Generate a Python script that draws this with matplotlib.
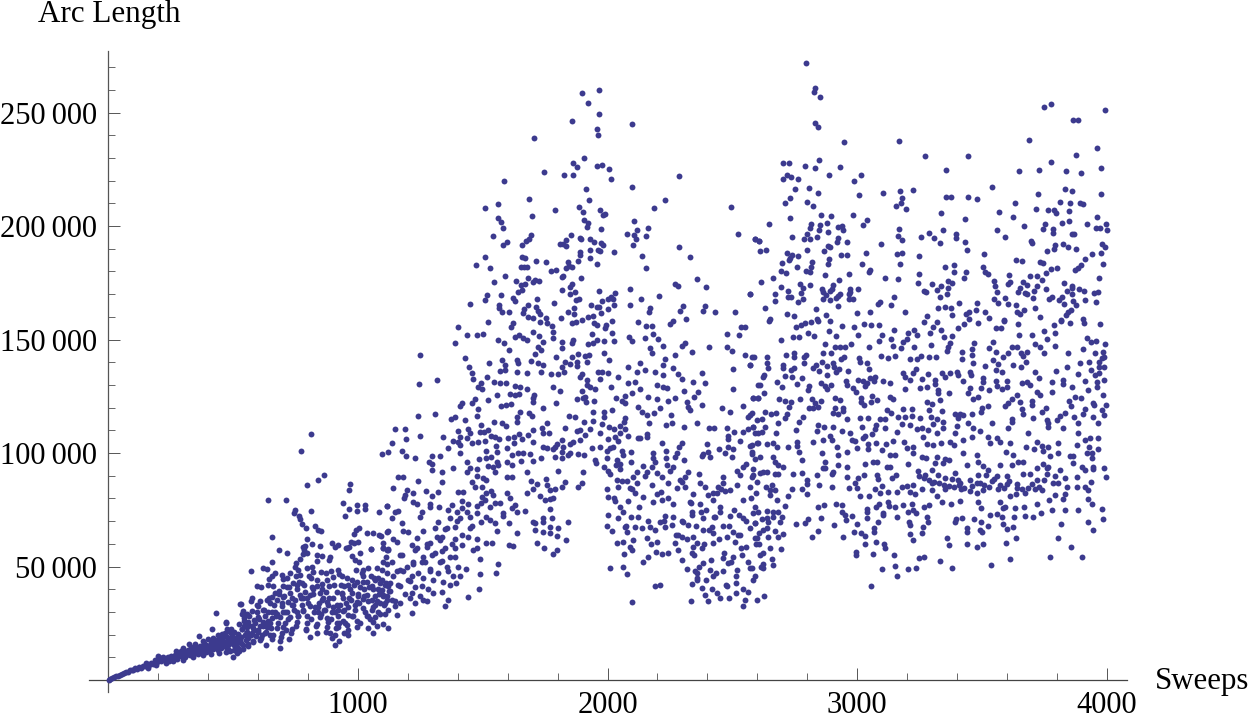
import matplotlib
matplotlib.use("Agg")
import matplotlib.pyplot as plt
import numpy as np

# (sweeps, arc length in thousands), region by region
middle_top = [(1898,258.7),(1966,259.7),(1922,254),(1967,249.5),(1856,246.2),(2098,245),(1959,242.6),(1960,240),(1705,238.6),(1907,230),(1863,227.6),(1878,226.1),(1958,226.3),(1979,227),(2006,225.2),(1747,223.6),(1827,222.5),(1863,222.5),(2013,220.8),(2286,222),(1584,220),(1915,216.4),(2098,217.2),(1685,212),(1924,211.6),(2230,211.6),(1560,209.7),(1510,207.8),(1886,208.4),(1788,207),(1903,206.3),(2186,207.8),(2495,208.2),(1971,206.9),(1990,205.3),(1982,204.8),(1696,204.4),(1562,203.4),(1574,201.6),(1906,202.6),(1922,201.5),(2105,202),(1916,199.4),(1581,199.3),(1972,198.8),(2162,199.3),(2119,198.1),(1855,196.2),(1542,195.6),(1693,196),(2077,196.6),(2107,196.2),(2153,195.7),(2524,196.6),(1890,194.7),(1895,194.3),(1931,194.3),(2113,194.3),(1685,194.1),(1673,193.2),(1834,193.8),(2592,194.3),(2608,193.2),(1596,193),(1582,191.8),(1656,191.6),(1946,192.8),(1974,192.7),(1983,191.5),(1809,192.2),(1823,191.9),(1835,191.3),(2102,191.8),(2286,190.9),(1928,189.6),(1962,189.6),(1970,188.8),(2027,188.7),(1888,188.4),(1891,187.4),(2138,186.9),(2332,186.3),(1509,186.3),(1658,186.5),(1670,186),(1931,185.9),(1712,184.7),(1755,184),(1883,184.4),(1840,184.1),(1959,183.4),(1471,182.8),(1529,181.5),(1652,181.9),(1665,181.8),(1676,181.8),(1846,182.4),(1859,181.8),(1834,181.6),(2155,181.5),(1773,180.3),(1793,180.6),(1590,178.1),(1816,177.5),(1823,177.8),(1683,177.1),(1892,177.2),(2357,176.5),(1545,175.5),(1633,175.6),(1711,176),(1724,175.8),(1703,175.3),(1669,174.6),(1654,174),(1856,174.6),(1850,173.3),(2272,174.5),(2284,173.4),(2396,173),(1657,172),(1642,170.8),(1819,171.8),(1868,171.1),(1851,170.2),(1966,171.5),(2091,172.1),(2029,170.3),(2572,170.2),(1518,169.8),(1573,169.5),(2206,169.2),(2013,168.9),(1621,168.1),(1510,167.6),(1719,167.7),(1887,168),(1874,167.4),(2003,167.7),(2021,168),(2134,167.7),(1628,166.8),(1978,167),(1447,165.6),(1787,165.9),(1564,165),(1934,165.4),(2027,165.4),(2089,165.2),(1566,164),(1680,165.4),(1713,164.5),(1864,164),(1956,164.5),(1967,164.5),(1666,163.6),(2304,164.6),(2389,164.9),(2171,163.7),(1720,162.7),(2004,163.4),(1576,162.1),(1606,162.1),(1661,161.7),(1842,162.3),(1729,161.1),(1866,161.2),(1975,161.7),(2166,162.3),(2289,162.6),(2383,162.7),(2429,162),(2510,162.1),(1680,159.8),(1703,159.3),(1755,159.6),(1813,159.3),(1923,159.8),(1943,160.2),(2313,159),(1729,157.9),(1521,157.6),(1622,157.3),(1759,157.1),(1859,157.4),(1872,157.6),(1899,158.4),(1946,157.3),(2019,158.2),(2123,157.6),(2264,158),(2250,157),(1399,155.4),(1613,155.5),(1777,155.8),(1956,156.5),(1995,156.4),(1988,155.1),(2153,155.8),(2180,155.8),(2535,155.4),(2551,155.4)]

right_top = [(2794,271.6),(2833,260.6),(2826,259),(2853,256.7),(2831,245.6),(2844,243.4),(2949,236.8),(3168,237.6),(3271,230.7),(3443,230.8),(3748,252.4),(3779,253.9),(3995,251.2),(3864,246.5),(3887,246.8),(3691,237.9),(3963,234.3),(3876,231.5),(3777,228),(2702,227.9),(2727,227.9),(2846,229.1),(2791,226.3),(2830,225.5),(2930,226),(3355,224.7),(3650,224.2),(3731,224.7),(3838,224.2),(3898,223.5),(3976,225.5),(2718,222.6),(2735,221.7),(2705,220.8),(2763,220.8),(2888,222.3),(3017,222.4),(2988,219.8),(2751,216.3),(2809,216.9),(2845,214.7),(3103,214.5),(3174,215.5),(3223,216),(3542,217.3),(3832,216.4),(3863,215.4),(3006,213.6),(2733,212.3),(3182,212.5),(3357,213),(3375,212.6),(3445,212.8),(3481,211.9),(3725,214.1),(3979,214.2),(2713,210),(2798,210.7),(2824,208.6),(3175,210.3),(3155,208.8),(3198,207.6),(3633,210.1),(3815,210.7),(3855,210.1),(3895,210.3),(3904,209.7),(3717,207.3),(3767,207),(3789,207.2),(3796,205.7),(3848,206.4),(3335,205.9),(3570,206),(2856,204.8),(2894,204.5),(2982,204.8),(3624,204),(2731,203.5),(3434,203.1),(3963,203.8),(3039,202.6),(3024,200.6),(2647,201),(2815,201),(2850,200.4),(2880,201.2),(2925,199.5),(2941,200.1),(2811,199.3),(3820,201.3),(3851,202),(3752,200.9),(3923,200.9),(3997,200.9),(3668,199.8),(3744,198.7),(3956,199.3),(3972,199),(4000,198.4),(2848,198.1),(2885,197.5),(2944,198.1),(3170,198.5),(3345,198.4),(3562,198.1),(3785,198.5),(3784,196.8),(2801,196.5),(3288,196.9),(3398,196.5),(3860,196.6),(3868,196.5),(2738,195.1),(2840,195.3),(3166,195.4),(3256,195.3),(3310,194.9),(3397,194.9),(3593,195),(2591,194.4),(2608,193.4),(2786,194.3),(2813,194.4),(2925,194.6),(3180,193.8),(2918,193),(2958,193.1),(3095,192),(3331,192.4),(3434,192.8),(3697,193.4),(3703,192.4),(3982,192.2),(3824,192.1),(3795,191.6),(3994,190.9),(2882,191),(2893,190.6),(3789,189.9),(3844,190.9),(3879,189.9),(2611,188.8),(2636,189.6),(2799,189.4),(2868,189),(3442,189.4),(3761,189),(2721,188),(2741,187.2),(2765,186.6),(2936,187.4),(2961,187.1),(3037,188.1),(3161,187.7),(3182,188.1),(3247,186.8),(3510,187.5),(3943,187.5),(3979,188.2),(2731,185.8),(2886,185.3),(2729,184.9),(3638,185.2),(3663,184.6),(3915,185.3),(2698,183.8),(2819,184),(2882,183.1),(3021,183.1),(3171,183.3),(3732,184.1),(3747,183.7),(3899,182.7),(3984,183.3),(2761,181.8),(2817,182.1),(3353,181.8),(3389,182.7),(3506,181.8),(3801,181.6),(3776,180.9),(3884,181.3),(3874,180.5),(2695,180.2),(2715,179.4),(2794,180.3),(2811,179.6),(3053,180.6),(3047,179.6),(3387,179.6),(3438,179.6),(3514,179.6),(3524,178.8),(2969,179),(2872,178.6),(3248,178.7),(3609,178.4),(3693,178),(3720,177.8),(3112,177.2),(3164,176.6),(2662,177.1),(3430,177.1),(3756,179.1),(3741,176.4),(3970,177.2),(2928,176.1),(2615,175.2),(3366,175.6),(3381,175),(3243,174.7),(3299,174.6),(3550,175.6),(3552,173.7),(3613,175.5),(3604,174.3),(3667,175.3),(3680,173.9),(3830,174.7),(2773,174.4),(2813,174),(2785,172.8),(2695,173.1),(2902,173.9),(3721,173.4),(3862,173.7),(3337,173.4),(3363,172.9),(3653,172.7),(3862,172.7),(3891,172.4),(3908,171.5),(2861,172.4),(2901,172.4),(2973,172.4),(3004,172.3),(2970,171.1),(2722,171.4),(2864,170.9),(2892,171.2),(3268,171.2),(3275,171.1),(3319,171.8),(3644,171),(3675,170.6),(3709,171.4),(3759,172.1),(3843,171.5),(3950,170.6),(3964,170.8),(2572,170.2),(2672,169.9),(2774,170.3),(3561,170.8),(3361,170.2),(3683,170),(3860,169.9),(2876,169.6),(2930,170),(2968,169.9),(2722,168.9),(2737,168.9),(2922,169.2),(3334,168.9),(3705,168.3),(3149,168.6),(3783,168.6),(3820,168.6),(2916,168.1),(2865,167.8),(2890,167.4),(2969,167.8),(2985,167.8),(2783,167.8),(2671,167),(2763,166.7),(3548,167.8),(3592,168.1),(3769,167.8),(3809,167.3),(3867,167),(3912,167.5),(3958,166.7),(3091,166.5),(3083,165.8),(3407,166.2),(3482,166.2),(3565,165.9),(3605,165.6),(3828,165.5),(2922,164.9),(3137,165),(3637,165),(3879,165.2),(2631,163.7),(2834,163.4),(3326,163.9),(3354,164.2),(3377,163.7),(3478,163),(3712,163.7),(3859,162.9),(3847,162.1),(3000,161.5),(3052,162),(3192,162.3),(2721,161.4),(2876,160.8),(2747,160.2),(3382,160.8),(3437,161.2),(3450,162),(3514,162),(3640,162.1),(3653,161.4),(3669,162.8),(3839,160.8),(3280,160.5),(2651,159.2),(2838,159),(3530,159.5),(3732,159.8),(3907,159.2),(3589,158.7),(3816,158.7),(3450,159.2)]

right_upper = [(2648,158.2),(2755,155.7),(2774,156.4),(2791,157.1),(2814,157.7),(2845,158.2),(2893,158),(2941,155.8),(2986,155.5),(3028,156.8),(3055,156.4),(3087,156.3),(3147,154),(3206,153),(3230,154.3),(3268,157.6),(3319,157.6),(3303,155.7),(3292,153),(3338,154),(3406,154.9),(3430,156.8),(3483,157.4),(3557,155.1),(3576,154.9),(3589,158.2),(3646,156.7),(3648,152.1),(3701,152.1),(3748,153.6),(3789,156.5),(3816,158),(3795,153),(3854,157.4),(3908,157.1),(3975,156.8),(2745,151.3),(2769,151.3),(2805,153),(2828,151.6),(2889,153.9),(2917,151.6),(3005,151.8),(3100,152.1),(3242,151.8),(3349,151),(3382,151.6),(2697,149.8),(3135,150.1),(3199,150.1),(3183,149.1),(3089,149.2),(3373,148.6),(3760,150.1),(3922,150.5),(3936,148.9),(3958,149.5),(2872,148),(2977,148),(3049,146.9),(3143,147.1),(3175,146.1),(3228,146.9),(3296,147.6),(3365,146.9),(3359,145.1),(3469,148.3),(3546,149),(3530,146.1),(3620,146.9),(3640,146.9),(3715,148),(3733,146.9),(3795,147.1),(3904,146),(3994,148),(3984,144.7),(2910,146.9),(2932,146.6),(2950,146.6),(2862,143.9),(2894,144.2),(3422,144.7),(3459,145.7),(3556,144.7),(3607,143.9),(3683,144.7),(3656,144.2),(3751,143.9),(3844,143.9),(3955,143.9),(2578,142.2),(2638,142.2),(2714,143),(2747,143.9),(2747,142.2),(2795,143),(2787,142.2),(2948,142.2),(2934,141.3),(3009,141.7),(3096,142.7),(3123,142),(3152,142.7),(3212,141.6),(3239,141.6),(3258,142.9),(3288,142.2),(3315,142.2),(3422,141.3),(3459,143.2),(3586,142.5),(3667,142.7),(3980,141.7),(2571,138.8),(2640,139.8),(2644,137.3),(2702,138.8),(2705,137.6),(2787,139.5),(2861,140.3),(2905,139.5),(2881,138.3),(2834,138.8),(3012,140.3),(3041,139.8),(3463,139.8),(3546,141),(3566,139.2),(3624,138.8),(3677,140),(3894,139.8),(3930,140.3),(3970,140.3),(3990,142.5),(3971,137.8),(3990,137.9),(2734,136.6),(2747,137.3),(2825,137.3),(2848,136.3),(2909,138),(2928,137),(2964,136.3),(3048,136.9),(3235,136.9),(3339,135.4),(3373,135.1),(3402,135.8),(3453,135.8),(3513,138.3),(3557,136.6),(3580,135.8),(3657,137.8),(3713,135.8),(3797,136.3),(3840,137.8),(3936,136.6),(3954,134.4),(3971,135.1),(3186,135.1),(3192,133.6),(3226,135.1),(3283,134.8),(3353,133.4),(3406,134.4),(3455,134.4),(2627,134.4),(2710,133.9),(2741,133.3),(2781,132.9),(2916,135.8),(2881,134.4),(3887,134.7),(3052,132.9),(3071,133.6),(3504,132.9),(3731,132.9),(2611,130),(2622,133.3),(2678,131.2),(2761,130.4),(2809,129.7),(2854,130.7),(2872,129.5),(2896,130),(2954,131.9),(2958,130),(3005,132.2),(3023,131.7),(3039,130.7),(3068,131.7),(3105,131.9),(3132,130.7),(3212,132.2),(3259,132.5),(3313,132.2),(3313,130.4),(3423,131.9),(3504,131.4),(3557,131.9),(3602,131.9),(3660,131),(3683,131.4),(3693,130),(3780,131.3),(3827,132.2),(3827,130.4),(3914,131.7),(3963,131.4),(3990,132.2),(2698,128.9),(2805,127.8),(2878,128.1),(2982,128.5),(2996,127),(3032,129.5),(3191,128.4),(3254,128.5),(3282,129.2),(3326,127.8),(3453,128.5),(3496,128.8),(3528,127.8),(3560,129.7),(3580,128.1),(3600,129),(3860,129.2),(3780,127),(3960,129.2),(3927,127.8),(3720,127),(3733,125.7),(3370,126.6),(2627,126.3),(3326,126.6),(3446,126.3),(3640,125.6),(3987,125.4),(2582,124.1),(2604,124.1),(2689,123.7),(2711,123.1),(2734,122.6),(2771,123.7),(2818,123.7),(2856,123.1),(2912,124.1),(2932,123.4),(3016,124.1),(3059,125.1),(3079,123.4),(3132,124.8),(3143,123.7),(3333,123.4),(3463,123.7),(3486,124.5),(3620,123.7),(3701,122.9),(3874,124.5),(3898,124.1),(3851,123.1),(2832,121.9),(3015,122.6),(3056,122.6),(3028,121.2),(3279,122.6),(3299,121.6),(3606,121.9),(3593,120.7),(3653,122.4),(3700,121.2),(3856,120.7),(3944,122.2),(3998,121),(2729,120.4),(2809,119.7),(2825,119.7),(2842,120.1),(2912,119.7),(2942,119.7),(3186,119.6),(3220,119.3),(3288,119),(3339,118.7),(3526,120.7),(3500,119.7),(3660,119.3),(3756,119.7),(3914,119.3),(3980,119),(3950,121.2),(2631,118.2),(2654,117.2),(2675,117.8),(2718,117),(2905,117.5),(2925,117.2),(2945,118.7),(3121,119),(3135,117.8),(3222,116.3),(3192,115.7),(3413,117.2),(3393,117.2),(3426,116.8),(3459,117.2),(3496,118.2),(3667,117),(3740,117.9),(3834,117.5),(3813,116.3),(3907,117.2),(3991,116.8),(2571,116.8),(2618,114.9),(2711,115.3),(2961,114.9),(3012,115.3),(3045,115.3),(3092,115.1),(3112,115.1),(3165,115.7),(3252,115.3),(3295,115.7),(3319,115),(3406,115.3),(3707,115.3),(3620,114.9),(3760,114.6),(3800,114.6),(3870,116),(3947,115.7)]

right_lower = [(2685,113.1),(2785,116),(2769,113.8),(3179,112.8),(3346,113.5),(3446,113.1),(3540,113.1),(3606,110.9),(3620,113.8),(3767,113.4),(3887,113.4),(3967,113.1),(2845,112.2),(2868,111.6),(2584,111.3),(2631,111.3),(2755,110.2),(2902,111.3),(3076,112.4),(3020,111.3),(3212,112.4),(3259,110.9),(3306,112.6),(3343,110.9),(3399,111.9),(3466,110.9),(3493,109.9),(3764,111.3),(3824,110.9),(2938,109.9),(2838,109.7),(2591,108.7),(2618,109.4),(2675,108.7),(2972,108.7),(3112,110.9),(3072,110.4),(3159,109.4),(3239,110.4),(3286,110.2),(3322,109),(3393,108.7),(3687,109),(3887,108.7),(3032,107.5),(3061,108.4),(2892,107.5),(3266,106.9),(3459,106.9),(3526,106.9),(3560,106.8),(3914,105.8),(3934,106.5),(3967,106.8),(2571,103.1),(2604,104.6),(2638,104),(2665,104.3),(2678,102.5),(2725,102.5),(2761,105),(2758,103.1),(2822,105),(2862,105.8),(2898,105.8),(2978,105.8),(2992,105.4),(3025,106.5),(3045,104),(3076,104.3),(3116,104),(3145,105.4),(3190,104.9),(3226,102.5),(3279,104),(3306,103.4),(3337,104.3),(3373,105),(3389,103.6),(3426,105.8),(3533,104.6),(3573,104.9),(3613,104.3),(3677,102.8),(3709,101.6),(3723,105),(3740,103.1),(3767,102.5),(3807,104.6),(3880,103.6),(3931,102.5),(3967,101.6),(2578,100.6),(2921,102.5),(3001,102),(3045,101.9),(3099,101.3),(3199,102),(3226,100.2),(2767,100.3),(2858,100.2),(2961,100.3),(3426,100.2),(3597,100.5),(3747,101),(3807,100.2),(3920,100.2),(3941,100.2),(3132,99.1),(3152,99.1),(2925,99.1),(2611,98.4),(2591,97.2),(2665,98.1),(2778,96.9),(3353,97.2),(3370,96.9),(3259,98.1),(3276,97.7),(3319,98.4),(3626,99.1),(3480,99.1),(3773,98.7),(3941,97.7),(3867,98.7),(3854,98.7),(2671,96.2),(2685,94.7),(2702,94),(2872,96.2),(2925,94.6),(3063,96.2),(3079,96.2),(3032,95.2),(3203,95),(3312,95.5),(3346,95.5),(3440,94.7),(3486,96.2),(3506,94.4),(3573,94.7),(3620,94.6),(3646,96.2),(3667,96.2),(3747,95.2),(3867,95.8),(3900,94),(2872,93.3),(2958,93.9),(3119,93.9),(3132,93.9),(3760,93.3),(3767,94),(3947,94),(3991,93.6),(2624,91.8),(2638,91.7),(2865,93.3),(2905,91.8),(3246,92.2),(3299,92.5),(3393,91.4),(3526,92.5),(3720,93.3),(3813,92.5),(3914,92.5),(3947,92.8),(2584,90.3),(2671,90.8),(2685,90.8),(2745,90.8),(2781,91.1),(2838,90.3),(2898,90.8),(3028,90.3),(3079,90.3),(3156,90.3),(3272,90.3),(3326,90.3),(3486,90.3),(3517,90.3),(3560,89.9),(3600,89.9),(3664,90.6),(3693,90.8),(3760,90.8),(3793,89.9),(3834,88.9),(3883,89.3),(3998,89.3),(2958,89.3),(3005,88.9),(2598,87.4),(2798,88.1),(3085,88.4),(3139,88.9),(3353,88.9),(3379,88.4),(3406,88.1),(3453,88.1),(3539,87.8),(3720,88.1),(2798,86.4),(2849,85.9),(2992,86.7),(3099,85.5),(3199,85.5),(3226,85.9),(3299,86.7),(3413,86.7),(3493,86.7),(3600,86.2),(3787,87),(3807,86.7),(3936,87.4),(2658,85.9),(2738,84.3),(2781,84),(2898,84.9),(2968,84.5),(3001,84.5),(3072,84.3),(3179,85.2),(3259,84),(3353,84),(3415,84),(3453,83.4),(3506,83.7),(3566,84),(3640,84.8),(3687,84.5),(3713,84.3),(3740,83.7),(3840,85.2),(3880,84.9),(3914,84.9),(3927,83.7),(2651,83.7),(2671,83.7),(3125,82.8),(3159,83),(3212,83),(3299,83.7),(2798,81.9),(2594,82.3),(2651,81.5),(2725,81.2),(3012,81.2),(3049,81.1),(3092,82.3),(3232,82),(3319,81.1),(3480,82.3),(3613,81.1),(3637,82),(3673,82.3),(3793,81.5),(3834,81.9),(2678,79.3),(3413,79),(3771,79.3),(3927,79.8),(3827,79.6),(3339,78.3),(3377,77.6),(3486,78.3),(3573,78.2),(3720,77.6),(3940,77.6),(2591,76.1),(2713,76.7),(2842,76.4),(2869,77),(2914,77.6),(2938,77.1),(3089,77.6),(3125,78.6),(3129,76.7),(3183,77.1),(3219,77.6),(3268,76.4),(3290,77),(3593,76.4),(3633,75.7),(3671,76.4),(3039,75.2),(3076,76.1),(3152,76.1),(3226,75),(3495,75.7),(2638,74.6),(2665,74.2),(2685,74.2),(2938,73.9),(3039,74.2),(3105,73.7),(3206,74.2),(3236,73.7),(3586,75.7),(3736,73.7),(3781,74.9),(3834,74.9),(3884,74.9),(3983,75.2),(2952,72.7),(2978,72.3),(3103,72.7),(3533,72.7),(3560,73.2),(3580,72),(3674,72.3),(3704,71.7),(2618,71),(2640,71.3),(2698,71.7),(2805,71.1),(2854,71.3),(2956,70.5),(3041,71.5),(3159,71.7),(3279,71.7),(3395,70.8),(3422,71.3),(3469,71.1),(3630,71.7),(3987,70.8),(2591,69.1),(2644,69.8),(2691,69.8),(2755,68.6),(2791,69.1),(2908,68.2),(3000,68.8),(3085,69.4),(3210,69.8),(3286,69.6),(3393,69.8),(3495,69.8),(3526,67.9),(3584,68.8),(3817,68.8),(3924,69.4),(2640,66.9),(2671,65.7),(3069,66.9),(3212,68.3),(3266,67.6),(3442,66.9),(3493,66.1),(3600,66.6),(3624,67.6),(3947,66.1),(2845,65.8),(2989,65.1),(3016,64.6),(3259,64.6),(3068,65.4),(2608,64.6),(2705,64.4),(3212,64.4),(3440,65.4),(3500,65),(2591,62.5),(2644,63.2),(2685,63.2),(2819,63.2),(2945,63.2),(3033,63.5),(3636,62.6),(3804,62.7),(3359,62.4),(3226,61.7),(3076,61),(2608,60),(3032,60),(3109,60),(3370,59.5),(3442,59.7),(3479,58.8),(3506,60),(3597,60.5),(3856,58.8),(3111,58.3),(2694,57.7),(2996,56.6),(3065,55.5),(2611,55.1),(2624,55.9),(2996,55),(3149,55.1),(3250,53.9),(3268,54.1),(3773,54.4),(3900,54.1),(2658,53.5),(2624,51),(2665,50.7),(3333,52.5),(3613,53.1),(3537,50.6),(3152,50.3),(3101,48.9),(3206,48.8),(3236,49.5),(3379,49.2),(2578,49.2),(2624,49.2),(3159,45.9),(2591,45.6),(3056,41.3),(2627,37)]

middle_upper = [(1435,152.1),(1475,152.1),(1503,152.6),(1390,148.5),(1560,149.8),(1584,148.3),(1604,145.4),(1629,151.3),(1646,152),(1662,150.5),(1676,149.8),(1700,153.3),(1727,151.6),(1743,149),(1783,153.2),(1783,150.5),(1816,148.8),(1816,146.1),(1856,148.3),(1860,149.8),(1923,148),(1936,152.4),(1943,148.3),(1956,149.8),(1987,149.5),(2026,149.2),(2017,152.7),(2087,151),(2097,149.2),(2150,150.8),(2184,152.4),(2204,150.1),(2170,146.1),(2177,144.2),(2224,147.2),(2312,148.6),(2297,147.3),(2477,152.3),(2528,152.1),(2408,146.9),(2480,146.9),(2500,145.1),(2337,144.7),(2272,143),(2551,143.3),(2587,142.5),(1250,143.3),(1723,146.9),(1732,145.4),(1708,143.6),(1856,142.2),(1883,143.5),(1910,142.8),(1927,143.2),(1987,143.9),(2007,141),(1792,142.2),(1429,141.7),(1524,139.7),(1576,141),(1636,141),(1642,139.5),(1692,140.5),(1720,139.5),(1743,138.8),(1829,140),(1816,138),(1850,139.2),(1876,140.3),(1919,140),(1876,138.3),(2083,138),(2130,139.5),(2230,141.3),(2224,138.8),(2571,138.8),(2504,137.2),(1445,137.9),(1458,135.4),(1589,138.8),(1569,136.1),(1589,136.6),(1636,135.7),(1676,135.4),(1732,135.7),(1773,134.8),(1803,134.8),(1825,135.6),(1896,134.8),(1963,135.9),(1976,135.9),(1970,132.5),(2003,135.1),(2043,133.6),(2117,135.9),(2150,136.6),(2190,135.6),(2224,134.5),(2264,137.3),(2284,134.8),(2380,135.1),(1459,132.6),(1516,133.4),(1244,130.3),(1318,132.2),(1493,131),(1546,131.2),(1569,130.7),(1593,130.7),(1482,129),(1499,128.2),(1629,129.5),(1649,129.2),(1676,128.2),(1783,129),(1809,127.5),(1890,133.4),(1916,132.2),(1919,130),(1930,129),(1950,128),(2016,129.2),(2083,130.7),(2110,131.4),(2097,126.6),(2130,128.1),(2197,130),(2224,129.2),(2240,128.5),(2297,132.5),(2344,131.2),(2391,130.7),(2504,128.2),(2604,130),(1556,125.4),(1609,126),(1629,125.6),(1646,125.9),(1705,125.6),(1896,127.5),(1876,123.8),(1910,124.8),(1903,124.1),(2036,124.1),(2070,125.3),(2163,124.8),(2200,123.8),(2306,127.5),(2364,126.9),(2347,124.8),(2582,124.1),(2604,124.1),(1469,123.7),(1522,123.4),(1415,121.9),(1455,121.9),(1572,120.9),(1593,121.3),(1612,121.6),(1703,124.1),(1700,122.6),(1792,121.9),(1914,122.6),(1946,122.8),(2057,123.1),(2070,121.9),(2123,120.1),(2244,123.1),(2270,124.1),(2317,122.6),(2324,120.4),(2380,121.2),(2457,119.7),(2544,120.7),(1482,119.3),(1409,120.9),(1740,119.7),(1686,117.5),(1696,116.3),(1649,118.1),(1943,118.2),(1986,118.1),(2019,119),(2137,118.2),(2157,116.8),(2186,117.5),(2210,119.7),(2254,116.8),(2330,119),(2491,118.2),(2578,117.5),(2564,115.7),(1239,116.5),(1310,117),(1477,116.5),(1373,115.2),(1389,115.8),(1429,114.6),(1638,115.7),(1636,113.8),(1847,116.5),(1870,115.7),(1986,115.7),(2070,115.3),(1906,113.8),(1943,114.3),(2066,113.8),(2168,113.4),(2257,113.1),(2233,112.5),(2359,113.1),(2598,114.6),(1546,113.5),(1576,113.1),(1593,112),(1756,113.1),(1739,111.2),(1976,112.8),(2005,111.6),(2050,111.9),(2070,110.6),(1148,110.7),(1188,110.5),(1831,111),(1890,110.2),(1930,110.6),(2026,110.7),(2306,111.3),(2408,111),(2428,111),(2478,110.9),(2584,111.3),(2564,110.5)]

middle_lower = [(1402,109.9),(1442,110.5),(1495,112.4),(1522,110.2),(1489,109.4),(1449,108.7),(1505,109.4),(1703,110.2),(1743,108.7),(1767,109),(1876,109.9),(1910,108.1),(1970,108.7),(2050,108.7),(2083,107.5),(2157,108.4),(2157,107.2),(2507,109.4),(2542,109.4),(2604,108.7),(1247,107.5),(1342,107.2),(1409,107.2),(1535,107.5),(1549,106.9),(1625,107.2),(1646,108.4),(1683,108),(2030,106.9),(2123,106.5),(2484,107.5),(2484,106),(1192,106.3),(1379,105.5),(1402,105),(1438,106.5),(1482,105),(1509,105.5),(1566,106),(1602,106.5),(1656,106),(1703,105),(1816,105.8),(1796,104),(1862,105),(1890,105.8),(2000,106),(2043,105.5),(2130,106.5),(2531,105.5),(1135,104.3),(1458,104.3),(1409,103.6),(1626,104.3),(1823,102.8),(1850,104),(2220,104.3),(2297,104.3),(2578,103.6),(2397,103.8),(2484,102.8),(1359,102.1),(1553,103.1),(1598,102.1),(1743,102.8),(1756,102.1),(1789,102.8),(1936,102.1),(1970,102.8),(2023,102.8),(2057,101),(2286,102.5),(2447,101.6),(2504,101.6),(2598,104.3),(1175,101),(1515,101),(1642,100.2),(1662,99.9),(1689,99.6),(1816,100.6),(1850,99.9),(1783,101.6),(1880,99.4),(1906,99),(1997,101),(2012,102.1),(2093,100.6),(2183,100.2),(2234,101),(2277,100.2),(2384,99.6),(2404,100.6),(2471,99.9),(2497,98.4),(2578,99.6),(1095,99.6),(1121,100.6),(1191,98.9),(1228,97.7),(1295,98.7),(1328,98.7),(1409,99.9),(1515,97.7),(1535,98.1),(1556,100.5),(1618,99),(1733,98),(1789,98.4),(1816,97.7),(1843,99.2),(1999,97.7),(2063,99.2),(2183,97.7),(2234,97.7),(2270,98.1),(2377,98.7),(2411,98.4),(1284,96.2),(1435,95.9),(1485,97.4),(1556,96.2),(1598,96.2),(1654,96.5),(1700,96.5),(1950,96.9),(2039,96.7),(2093,96.2),(2306,96.7),(2557,95),(1295,95.2),(1522,94.3),(1562,94.7),(1616,94.7),(1954,95.5),(2190,96.2),(2237,94.7),(2264,94),(2544,94),(1382,93.4),(1449,93.3),(1475,93),(1542,93.7),(1295,92.5),(1986,93.7),(2036,94.7),(2143,94.3),(2177,93.7),(2518,92.2),(2584,92.8),(2611,91.1),(1435,91.8),(1335,91.5),(1549,91.8),(1679,91.8),(1800,92.2),(1900,91.8),(2050,92.9),(2117,91.8),(2157,91.8),(2197,91.1),(2324,91.8),(2368,90.8),(1161,89.3),(1181,89.6),(1475,89.9),(1596,89.6),(1616,89.6),(1502,88.9),(1753,88.6),(2012,90.9),(2103,89.6),(2217,89.6),(2464,89.6),(2531,90.3),(2578,89.6),(2310,89.6),(1242,87.5),(1335,87.4),(1455,87.4),(1515,88.1),(1692,87.7),(1756,85.9),(1716,86.2),(1829,87.1),(1896,86.8),(2039,88.1),(2057,87.8),(2077,87.8),(2117,86.6),(2244,86.7),(2297,87.4),(2371,86.7),(2464,86.7),(2518,85.9),(2571,85.2),(1141,84.6),(1469,85.2),(1498,84.9),(1819,84.9),(1883,85.2),(1999,84),(2043,84.9),(2090,84.5),(2177,85.9),(2277,84.8),(2310,85.2),(2391,85.2),(2444,84.9),(2491,83.7),(1195,83.7),(1272,83.1),(1322,83),(1402,83),(1419,83),(1535,83.4),(1596,82.6),(1676,82.3),(1703,84),(1769,83.7),(1789,84.2),(2110,82.6),(2214,83),(2424,82.3),(2471,83.4),(1188,81.4),(1222,82.3),(1295,81.2),(1515,82.3),(1540,81.5),(1729,81.1),(1783,80.1),(2000,80.4),(2344,82),(2404,81.5),(2437,82.3),(1184,80.1),(1415,79),(1496,80.8),(1509,79.3),(1609,80.1),(1749,79.3),(1769,79.6),(2083,79),(2143,80.4),(2217,79.3),(2244,80.1),(2330,78.6),(2424,79.3),(2544,79.3),(1222,78.6),(1288,77.6),(1326,76.4),(1375,77.1),(1439,77.6),(1475,76.7),(1549,77.9),(1569,77.9),(1629,77.1),(2032,78.9),(2050,76.1),(2184,78.2),(2264,77.6),(2371,77.4),(2451,76.4),(1115,76.8),(1238,77.6),(1415,75.7),(1529,76.4),(1616,75.7),(1288,76.4),(1362,75),(1769,75.2),(1669,74.5),(1636,73.8),(2063,74.2),(1255,74.2),(1161,74.6),(1148,73.8),(1395,73.8),(1449,72),(1478,73.5),(1580,73.5),(2000,72.7),(2093,72),(2123,72),(2230,72.3),(2264,72),(2337,74.2),(2395,74.9),(2451,73.8),(2528,72.7),(2582,73.5),(2431,71.7),(2491,72.3),(1135,71.3),(1248,71.6),(1369,71.3),(1409,71.3),(1529,70.5),(1580,72.3),(1700,69.8),(1743,71.3),(1776,71.3),(1843,69.8),(2043,71.3),(2163,70.2),(2210,69.8),(2301,69.8),(2337,72.7),(2384,71.3),(2544,71.3),(1175,69.3),(1322,69.8),(1495,69.8),(1549,69.3),(1606,69.3),(1743,69.8),(1997,67.9),(2070,67.6),(2110,67.6),(2257,68.3),(2324,68.3),(2417,67.6),(2464,67.9),(2591,69),(1308,66.9),(1349,66.4),(1389,67.6),(1449,66.9),(1709,69),(1769,67.6),(1803,66.9),(1709,66.1),(2170,67.3),(2190,66.1),(2230,67.6),(2384,66.1),(2571,66.9),(1115,65.4),(1202,65.4),(1262,65.8),(1556,65.8),(1636,64.7),(1743,65.4),(1769,64.7),(2017,65.7),(2077,65.4),(2137,66.9),(2284,63.9),(2344,63.2),(2424,64.7),(2531,63.9),(2504,65.4),(1141,62),(1181,65.7),(1235,62.5),(1335,62.9),(1442,63.2),(1536,60.2),(1515,60.2),(1606,59.5),(1622,59.2),(1716,60.5),(1796,63.5),(1832,61.6),(2063,61),(2103,61.7),(2157,62.5),(2197,61),(2270,60.5),(2297,63.2),(2357,60.2),(2478,63.2),(2598,62.5),(1101,60.2),(1155,61),(1215,59.5),(1288,60.2),(1328,61.7),(1415,59.5),(1475,58),(2037,60.2),(2090,58.5),(2284,57.3),(2344,58.8),(2377,58),(2424,60.2),(2511,61),(2557,58.5),(1115,57.3),(1168,55),(1228,57.3),(1275,58.8),(1389,58),(1462,57.3),(1747,58.3),(1797,57.3),(1780,55.3),(2067,55.6),(2099,57.3),(2163,54.1),(2194,56.4),(2217,55.6),(2244,56.1),(2300,52.9),(2337,55.8),(2464,53.6),(2504,54.4),(2538,55.1),(1262,54.4),(1389,54.4),(1335,52.6),(1491,53.1),(1561,51.1),(2143,52),(1222,52.2),(1101,52.2),(1168,48.5),(1288,47.8),(1355,49.7),(1409,45.6),(1433,48.8),(1489,46.7),(1554,47),(2011,49.5),(2062,50),(2079,46.9),(2317,48.8),(2350,47.8),(2411,48.5),(2464,47.8),(2518,48.5),(2571,49.2),(2384,51.4),(2424,45.6),(2357,44.8),(2484,51.4),(1115,36.8),(1108,33.8),(1135,35.3),(1148,32.4),(1128,42.6),(1168,41.2),(1208,43.4),(1215,38.2),(1255,41.2),(1262,35.3),(1228,33.8),(1275,34.6),(1302,38.2),(1335,38.9),(1369,41.9),(1393,42.6),(1362,35.3),(1349,32.4),(1442,36.5),(1487,40),(1215,29.4),(1155,28.7),(1095,39.7),(2190,41.5),(2210,41.8),(2099,34.4),(2333,34.7),(2404,35),(2551,35.3),(2544,32.4),(2598,35.3),(2451,36),(2487,36),(2391,37.5),(2417,40),(2357,44.1),(2477,41.2),(2515,42.6),(2515,38.2),(2564,38.9),(2377,40.4),(2437,38.2),(2337,42.3),(2357,47)]

left_sparse = [(813,108.3),(773,101.1),(864,90.3),(838,87.9),(797,85.9),(969,86.3),(965,83.7),(638,79.3),(710,79.3),(940,77.8),(996,77.2),(1029,76.9),(1029,75.2),(1115,76.6),(748,75),(744,73.7),(810,74.6),(963,75.2),(995,74.6),(1083,74),(765,72.4),(768,70.9),(948,72.2),(777,68.8),(790,67.1),(828,67.7),(841,66.1),(850,65.5),(1005,66.8),(992,66.1),(984,64.4),(1037,64.6),(1059,64.6),(1086,64),(1094,63.6),(1120,65.5),(654,63),(794,62.2),(896,60.5),(921,59.3),(908,58.7),(817,60),(971,60.8),(984,60.5),(1001,60.8),(788,59),(778,58.4),(846,58.9),(952,58),(965,58.4),(1052,57.7),(1099,58.1),(1119,57.8),(682,57.2)]

left_dense = [(714,55.8),(785,57.3),(797,55.8),(781,55.5),(955,58),(975,54.7),(1008,56.1),(1052,57.6),(1102,58),(1122,57.3),(768,53.2),(752,51.4),(834,55),(854,54.8),(888,54.4),(837,52.6),(885,52.9),(657,52.2),(988,52.9),(1005,52),(1112,54.4),(1115,51.1),(621,49.4),(634,48.8),(571,47.9),(748,50),(761,48.5),(797,49.2),(814,50),(821,47.5),(852,47.5),(872,47),(891,47.8),(921,48.5),(925,46.7),(992,48.5),(1021,48.5),(1041,49.2),(1075,49.2),(1098,48.5),(667,47),(654,45.6),(645,44.4),(694,46.3),(728,47),(714,44.8),(701,44.4),(768,46.3),(752,45.6),(810,44.8),(901,45.3),(935,45.6),(1021,45.6),(1051,45.6),(1035,43.3),(975,44.1),(995,43.3),(1068,44.1),(1088,42.6),(1112,42.9),(597,41.4),(610,40.9),(641,41.9),(661,41.2),(741,42.6),(774,42.9),(754,41.9),(714,40.9),(698,41.4),(854,42.3),(834,41.2),(818,40),(885,41.4),(944,41.2),(961,41.9),(1008,40.9),(1024,40),(1055,41.2),(1082,40),(1122,41.2),(667,38.5),(685,37.9),(701,36.7),(654,36.5),(728,38.2),(768,37.5),(788,38.9),(808,37.5),(848,38.2),(872,38.9),(915,38.9),(935,38.2),(975,38.5),(1001,37),(1035,37.5),(1068,37),(1102,37.5),(574,36),(571,35),(607,35),(634,35.3),(674,35.3),(721,34.3),(748,35.3),(781,36),(854,35.3),(877,34.5),(941,36),(971,35.3),(995,34.5),(1021,35.6),(1055,35.3),(1088,33.8),(1115,35.3),(530,33.4),(601,32.6),(647,33.8),(694,32.6),(734,33),(808,32.6),(828,32.3),(901,32.3),(928,33),(961,32.3),(1021,31.6),(1061,32.3),(538,30.6),(534,29.1),(557,29.1),(594,30.1),(621,30.9),(641,30.1),(667,30.1),(707,30.1),(754,30.1),(781,30.6),(841,30.1),(868,30.9),(908,30.1),(941,30.6),(988,30.9),(1082,30.1),(1108,29.1),(601,27.6),(627,28.2),(654,27.2),(687,27.9),(728,27.6),(761,28.2),(797,28.2),(848,27.9),(874,27.2),(921,28.2),(961,28.7),(1041,28.2),(1068,27.6),(470,25.4),(543,26.2),(561,25.7),(587,25.3),(618,25.7),(647,25),(707,25.3),(754,25.7),(794,25),(834,24.7),(881,25.7),(915,25),(948,25.3),(1061,25.7),(1102,24.7),(534,22.4),(554,23.2),(581,22.8),(607,23.8),(634,23.2),(674,22.8),(701,23.2),(734,22.4),(792,22.4),(874,23.2),(921,23.2),(957,24.3),(997,23.2),(1039,23.1),(1075,23.8),(1122,22.7),(476,22.4),(487,21.3),(467,20.6),(520,20.3),(547,19.9),(574,20.6),(601,21.3),(627,20.6),(647,19.9),(694,20.6),(808,19),(837,20.6),(888,20.6),(908,19.9),(944,20.6),(961,19.9),(1061,20.6),(725,18.1),(895,18.4),(925,17.4),(687,17.2),(631,15.5),(687,14.3),(908,15.2),(581,16.9),(561,15.9),(607,17.7),(654,18),(527,17.7)]

origin_band = [(2,0.2),(8,0.5),(15,0.8),(22,1.2),(30,1.6),(38,1.9),(46,2.3),(54,2.7),(62,3),(70,3.4),(78,3.7),(86,4.2),(94,4.5),(100,4.2),(108,5.1),(116,5),(124,5.7),(132,5.5),(140,6.3),(148,6.2),(156,6.9),(164,6.6),(172,7.6),(180,7.2),(188,8.8),(196,7.9),(200,10.7),(204,9.3),(212,8.3),(220,10.1),(228,8.9),(236,9.9),(244,8.4),(252,10.7),(260,9.6),(268,11.2),(276,9.4),(284,12.1),(292,10.4),(300,11.8),(308,10.2),(320,13.3),(328,11.1),(336,14.1),(344,12.4),(352,12.9),(360,11.5),(368,14.8),(376,13.2),(384,16.1),(392,12.5),(400,15),(408,13.3),(416,17),(424,14.6),(432,16.3),(440,13.1),(448,18.2),(456,15.2),(464,19.5),(472,14.4),(480,17.1),(488,12.8),(496,20),(504,15.6),(512,18.3),(520,14.2),(429,29.4),(363,19.4),(324,15.9),(415,22.5),(471,25.3),(528,33.3),(150,7.4),(210,9.9),(240,10.3),(270,10.8),(290,12.7),(310,12.3),(330,12.6),(350,14.5),(370,13.5),(390,15.4),(410,15.6),(420,18.6),(430,15.4),(445,16.8),(455,17.9),(465,16.7),(475,18.9),(485,15.8),(495,17.4),(505,13.4),(515,16.4),(525,12.9),(530,18.9),(540,15.2),(550,20.1),(505,21.2),(490,22.4),(535,22.6),(560,18.4),(455,20.2),(440,19.8),(400,18.2),(380,17.3),(345,15.8),(300,14),(270,12.7),(525,24.8),(545,27.5),(560,24.1),(575,30.4),(585,26.4),(515,11.8),(500,10.2),(470,12.2),(445,11.9),(410,11.5),(380,10.9),(340,10.1),(300,8.8),(260,8.2),(230,7.6),(190,6.5),(160,5.5)]

dense_band = [(300,13.2),(310,11),(320,12),(330,14.6),(340,13),(350,11.8),(360,13.6),(370,12.3),(380,15),(390,14.2),(400,12.9),(410,16.4),(420,13.6),(430,17.6),(440,15),(450,14),(460,17),(470,15.8),(480,13.6),(490,18.5),(500,16.8),(510,14.8),(520,19.6),(530,16.2),(540,13.6),(550,17.6),(560,15),(570,20),(580,17),(590,19.2),(600,22),(610,18.4),(620,24),(630,21),(640,26),(650,23),(660,20),(670,28),(680,25),(690,18.8),(700,30),(710,22),(720,27),(730,20.5),(740,33),(750,24),(760,28),(770,36),(780,31),(790,22),(800,34),(810,27),(820,38),(830,24),(840,32),(850,29),(860,36),(870,21),(880,33),(890,27),(900,36),(910,23),(920,31),(930,42),(940,26),(950,34),(960,22),(970,40),(980,28),(990,33),(1000,38),(1010,25),(1020,43),(1030,30),(1040,35),(1050,27),(1060,40),(1070,33),(1080,45),(1090,29),(1100,37),(1110,42),(1120,31),(1130,39),(1140,46),(1150,35),(1160,42),(1170,34),(1180,48),(1190,38),(1200,44),(1210,36),(1220,51),(1230,41),(1240,47),(1250,37),(1260,45),(1270,52),(1280,40),(1290,49),(1300,44),(1310,56),(1320,47),(1330,52),(1340,43),(1350,58),(1360,48),(1370,54),(1380,46),(1390,62),(1400,50),(545,24),(555,21),(565,28),(575,24),(585,22),(595,33),(605,27),(615,20),(625,31),(635,25),(645,36),(655,30),(665,33),(675,29),(685,39),(695,34),(705,37),(715,30),(725,41),(735,36),(745,31),(755,40),(765,43),(775,33),(785,42),(795,36),(805,46),(815,41),(825,30),(835,44),(845,34),(855,40),(865,31),(875,44),(885,36),(895,30),(905,42),(915,33),(925,25),(935,38),(945,31),(955,45),(965,36),(975,28),(985,42),(995,26),(1005,34),(1015,47),(1025,37),(1035,28),(1045,41),(1055,31),(1065,45),(1075,35),(1085,38),(1095,44),(1105,33),(1115,47),(1125,39),(1135,52),(1155,48),(1175,55),(1195,50),(1215,46),(1235,58),(1255,52),(1275,60),(1295,55),(1315,63),(1335,57),(1355,67),(1375,60),(1395,70),(1415,64),(1435,74),(1455,68),(1475,62),(1495,78),(1515,72)]

lower_streak = [(3250,90),(3270,88.8),(3290,88),(3310,87.3),(3330,86.8),(3350,86),(3370,85.4),(3390,85),(3410,85.8),(3430,84.6),(3460,85.5),(3480,87),(3510,86),(3530,85),(3550,88.6),(3575,86),(3590,84.5),(3610,87.5),(3640,86.5),(3660,84),(3700,86.5),(3730,85),(3750,88)]

trough = [(2300,70),(2320,62),(2335,78),(2345,55),(2355,68),(2365,50),(2375,74),(2385,60),(2395,44),(2405,66),(2415,53),(2425,72),(2435,47),(2445,62),(2455,84),(2465,56),(2475,42),(2485,68),(2495,52),(2505,75),(2515,46),(2525,64),(2535,58),(2545,40),(2555,70),(2565,52),(2575,80),(2585,44),(2595,60),(2605,74),(2615,50),(2625,66),(2635,85),(2650,58),(2665,72),(2000,92),(2025,80),(2050,95),(2075,68),(2100,84),(2125,76),(2150,90),(2175,60),(2200,82),(2225,70),(2250,92),(2275,64),(2290,88)]

regions = [middle_top, right_top, right_upper, right_lower, middle_upper, middle_lower, left_sparse, left_dense, origin_band, dense_band, lower_streak, trough]
points = np.array([p for region in regions for p in region], dtype=float)
sweeps = points[:, 0]
arc_length = points[:, 1] * 1000

x_major = [1000, 2000, 3000, 4000]
x_minor = [200, 400, 600, 800, 1200, 1400, 1600, 1800, 2200, 2400, 2600, 2800, 3200, 3400, 3600, 3800]
y_major = [50000, 100000, 150000, 200000, 250000]
y_labels = ["50\u2009000", "100\u2009000", "150\u2009000", "200\u2009000", "250\u2009000"]
y_minor = [v * 1000 for v in range(10, 280, 10) if v % 50 != 0]

plt.rcParams["font.family"] = ["Liberation Serif", "DejaVu Serif"]

fig = plt.figure(figsize=(12.5, 7.22), dpi=100)
ax = fig.add_axes([89 / 1250, 30 / 722, 1038 / 1250, 641 / 722])
ax.set_xlim(-78, 4082)
ax.set_ylim(-5286, 277100)

ax.scatter(sweeps, arc_length, s=18, color="#3c3a8e", linewidths=0, zorder=3, clip_on=False)

for name in ["top", "right"]:
    ax.spines[name].set_visible(False)
ax.spines["left"].set_position(("data", 0))
ax.spines["bottom"].set_position(("data", 0))
ax.spines["left"].set_color("#555555")
ax.spines["bottom"].set_color("#444444")
ax.spines["left"].set_linewidth(0.9)
ax.spines["bottom"].set_linewidth(0.9)

ax.set_xticks(x_major)
ax.set_xticks(x_minor, minor=True)
ax.set_yticks(y_major)
ax.set_yticklabels(y_labels)
ax.set_yticks(y_minor, minor=True)
ax.tick_params(axis="both", which="major", direction="in", length=8.5, width=0.7, color="#555555", labelsize=22)
ax.tick_params(axis="both", which="minor", direction="in", length=5, width=0.7, color="#666666")
ax.tick_params(axis="x", which="major", pad=8)
ax.tick_params(axis="y", which="major", pad=8)

fig.text(38 / 1250, 1 - 22 / 722, "Arc Length", fontsize=22.4, color="black", va="baseline")
fig.text(1155 / 1250, 1 - 689 / 722, "Sweeps", fontsize=22.2, color="black", va="baseline")

fig.savefig("out.png", dpi=100)
